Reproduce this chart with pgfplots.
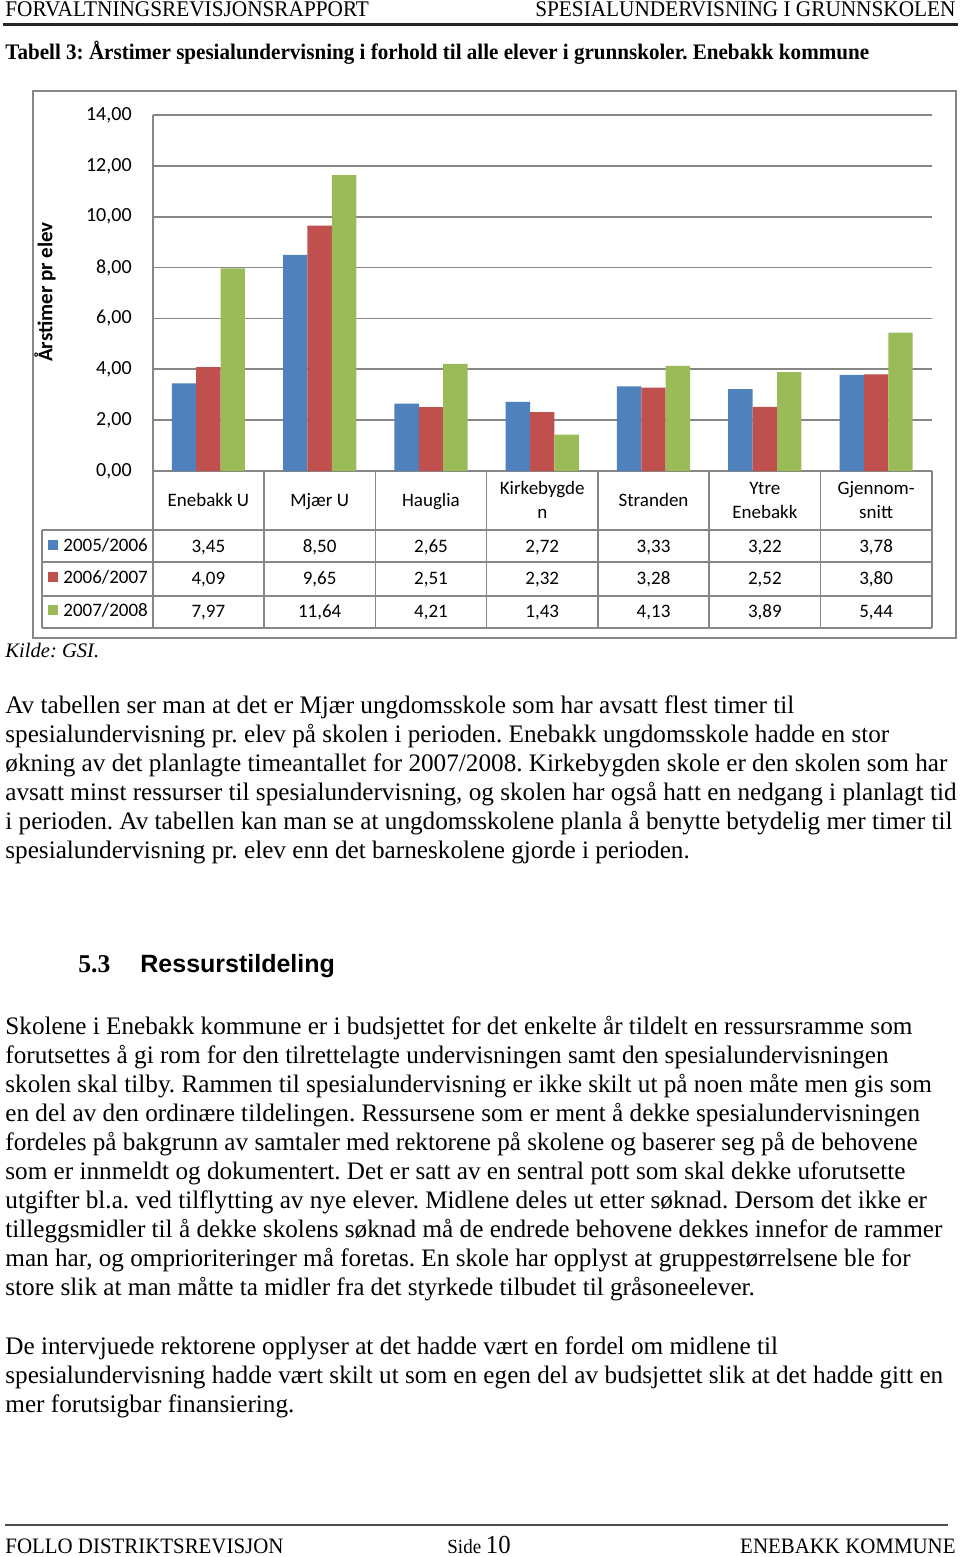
\documentclass[border=0pt]{standalone}
\usepackage{pgfplots}
\pgfplotsset{compat=1.18}
\usepackage{fontspec}
\setmainfont{Liberation Serif}
\newfontfamily\chartfont{Carlito}
\newfontfamily\hdrfont[FakeStretch=0.95]{Liberation Serif}
\newfontfamily\headsans{Liberation Sans}
\definecolor{xblue}{HTML}{4F81BD}
\definecolor{xred}{HTML}{C0504D}
\definecolor{xgreen}{HTML}{9BBB59}
\definecolor{gridgray}{HTML}{868686}
\newcommand\bodyfont{\fontsize{12.6}{15}\selectfont}
\newcommand\cf{\chartfont\fontsize{9.5}{12}\selectfont}
\frenchspacing
\begin{document}
\begin{tikzpicture}
\begin{scope}[x=0.5pt,y=-0.5pt]
\path[use as bounding box] (0,0) rectangle (960,1557);
% header
\node[anchor=base west,inner sep=0] at (5,17) {\hdrfont\fontsize{11.2}{13}\selectfont FORVALTNINGSREVISJONSRAPPORT};
\node[anchor=base east,inner sep=0] at (956,17) {\hdrfont\fontsize{11.2}{13}\selectfont SPESIALUNDERVISNING I GRUNNSKOLEN};
\draw[line width=1.1pt,black!85] (3,24.5) -- (958,24.5);
\node[anchor=base west,inner sep=0] at (5,60) {\hdrfont\bfseries\fontsize{11.1}{13}\selectfont Tabell 3: Årstimer spesialundervisning i forhold til alle elever i grunnskoler. Enebakk kommune};
% chart frame
\draw[gridgray,line width=0.8pt] (33,91) rectangle (956,638);
% y label
\node[rotate=90,inner sep=0] at (45,292) {\chartfont\bfseries\fontsize{10.5}{12}\selectfont Årstimer pr elev};
\end{scope}

\begin{axis}[
  at={(76.35pt,-235.5pt)}, anchor=south west,
  width=389.55pt, height=178pt, scale only axis,
  ymin=0, ymax=14, xmin=-0.5, xmax=6.5,
  ytick={0,2,4,6,8,10,12,14},
  xtick=\empty,
  axis x line*=bottom, axis y line*=left,
  axis line style={draw=gridgray, line width=0.8pt, -},
  ymajorgrids, grid style={draw=gridgray, line width=0.8pt},
  major tick length=0pt,
  ybar=0pt, bar width=12.2pt,
  yticklabel style={font=\chartfont\fontsize{10}{12}\selectfont, xshift=-7pt,
    /pgf/number format/fixed, /pgf/number format/fixed zerofill,
    /pgf/number format/precision=2, /pgf/number format/use comma,
    /pgf/number format/assume math mode=true},
]
\addplot[fill=xblue, draw=none] coordinates {(0,3.45) (1,8.50) (2,2.65) (3,2.72) (4,3.33) (5,3.22) (6,3.78)};
\addplot[fill=xred, draw=none] coordinates {(0,4.09) (1,9.65) (2,2.51) (3,2.32) (4,3.28) (5,2.52) (6,3.80)};
\addplot[fill=xgreen, draw=none] coordinates {(0,7.97) (1,11.64) (2,4.21) (3,1.43) (4,4.13) (5,3.89) (6,5.44)};
\end{axis}

\begin{scope}[x=0.5pt,y=-0.5pt]
% data table
\draw[gridgray,line width=0.8pt] (41.7,530) -- (931.8,530) (41.7,562) -- (931.8,562) (41.7,596) -- (931.8,596) (41.7,628) -- (931.8,628);
\draw[gridgray,line width=0.8pt] (41.7,530) -- (41.7,628);
\foreach \k in {0,...,7} { \draw[gridgray,line width=0.8pt] ({152.7+111.3*\k},471) -- ({152.7+111.3*\k},628); }
% category labels
\node[anchor=base,inner sep=0] at (208.35,506) {\cf Enebakk U};
\node[anchor=base,inner sep=0] at (319.65,506) {\cf Mjær U};
\node[anchor=base,inner sep=0] at (430.95,506) {\cf Hauglia};
\node[anchor=base,inner sep=0] at (542.25,494) {\cf Kirkebygde};
\node[anchor=base,inner sep=0] at (542.25,518) {\cf n};
\node[anchor=base,inner sep=0] at (653.55,506) {\cf Stranden};
\node[anchor=base,inner sep=0] at (764.85,494) {\cf Ytre};
\node[anchor=base,inner sep=0] at (764.85,518) {\cf Enebakk};
\node[anchor=base,inner sep=0] at (876.15,494) {\cf Gjennom-};
\node[anchor=base,inner sep=0] at (876.15,518) {\cf snitt};
% legend column
\fill[xblue] (48,540) rectangle (58,550);
\fill[xred] (48,572) rectangle (58,582);
\fill[xgreen] (48,605) rectangle (58,615);
\node[anchor=base west,inner sep=0] at (63,551) {\cf 2005/2006};
\node[anchor=base west,inner sep=0] at (63,583) {\cf 2006/2007};
\node[anchor=base west,inner sep=0] at (63,616) {\cf 2007/2008};
% values
\foreach \v [count=\i from 0] in {3{,}45,8{,}50,2{,}65,2{,}72,3{,}33,3{,}22,3{,}78}
  { \node[anchor=base,inner sep=0] at ({208.35+111.3*\i},552) {\cf \v}; }
\foreach \v [count=\i from 0] in {4{,}09,9{,}65,2{,}51,2{,}32,3{,}28,2{,}52,3{,}80}
  { \node[anchor=base,inner sep=0] at ({208.35+111.3*\i},584) {\cf \v}; }
\foreach \v [count=\i from 0] in {7{,}97,11{,}64,4{,}21,1{,}43,4{,}13,3{,}89,5{,}44}
  { \node[anchor=base,inner sep=0] at ({208.35+111.3*\i},617) {\cf \v}; }
% source
\node[anchor=base west,inner sep=0] at (5,657) {\fontsize{10.3}{13}\selectfont\itshape Kilde: GSI.};
% paragraph 1
\node[anchor=base west,inner sep=0] at (5,713) {\bodyfont Av tabellen ser man at det er Mjær ungdomsskole som har avsatt flest timer til};
\node[anchor=base west,inner sep=0] at (5,742) {\bodyfont spesialundervisning pr. elev på skolen i perioden. Enebakk ungdomsskole hadde en stor};
\node[anchor=base west,inner sep=0] at (5,771) {\bodyfont økning av det planlagte timeantallet for 2007/2008. Kirkebygden skole er den skolen som har};
\node[anchor=base west,inner sep=0] at (5,800) {\bodyfont avsatt minst ressurser til spesialundervisning, og skolen har også hatt en nedgang i planlagt tid};
\node[anchor=base west,inner sep=0] at (5,829) {\bodyfont i perioden. Av tabellen kan man se at ungdomsskolene planla å benytte betydelig mer timer til};
\node[anchor=base west,inner sep=0] at (5,858) {\bodyfont spesialundervisning pr. elev enn det barneskolene gjorde i perioden.};
% heading
\node[anchor=base west,inner sep=0] at (78,972) {\bfseries\fontsize{12.8}{15}\selectfont 5.3};
\node[anchor=base west,inner sep=0] at (140,972) {\headsans\bfseries\fontsize{12.5}{15}\selectfont Ressurstildeling};
% paragraph 2
\node[anchor=base west,inner sep=0] at (5,1034) {\bodyfont Skolene i Enebakk kommune er i budsjettet for det enkelte år tildelt en ressursramme som};
\node[anchor=base west,inner sep=0] at (5,1063) {\bodyfont forutsettes å gi rom for den tilrettelagte undervisningen samt den spesialundervisningen};
\node[anchor=base west,inner sep=0] at (5,1092) {\bodyfont skolen skal tilby. Rammen til spesialundervisning er ikke skilt ut på noen måte men gis som};
\node[anchor=base west,inner sep=0] at (5,1121) {\bodyfont en del av den ordinære tildelingen. Ressursene som er ment å dekke spesialundervisningen};
\node[anchor=base west,inner sep=0] at (5,1150) {\bodyfont fordeles på bakgrunn av samtaler med rektorene på skolene og baserer seg på de behovene};
\node[anchor=base west,inner sep=0] at (5,1179) {\bodyfont som er innmeldt og dokumentert. Det er satt av en sentral pott som skal dekke uforutsette};
\node[anchor=base west,inner sep=0] at (5,1208) {\bodyfont utgifter bl.a. ved tilflytting av nye elever. Midlene deles ut etter søknad. Dersom det ikke er};
\node[anchor=base west,inner sep=0] at (5,1237) {\bodyfont tilleggsmidler til å dekke skolens søknad må de endrede behovene dekkes innefor de rammer};
\node[anchor=base west,inner sep=0] at (5,1266) {\bodyfont man har, og omprioriteringer må foretas. En skole har opplyst at gruppestørrelsene ble for};
\node[anchor=base west,inner sep=0] at (5,1295) {\bodyfont store slik at man måtte ta midler fra det styrkede tilbudet til gråsoneelever.};
% paragraph 3
\node[anchor=base west,inner sep=0] at (5,1354) {\bodyfont De intervjuede rektorene opplyser at det hadde vært en fordel om midlene til};
\node[anchor=base west,inner sep=0] at (5,1383) {\bodyfont spesialundervisning hadde vært skilt ut som en egen del av budsjettet slik at det hadde gitt en};
\node[anchor=base west,inner sep=0] at (5,1412) {\bodyfont mer forutsigbar finansiering.};
% footer
\draw[line width=0.6pt,black!70] (5,1525) -- (948,1525);
\node[anchor=base west,inner sep=0] at (5,1553) {\hdrfont\fontsize{11}{13}\selectfont FOLLO DISTRIKTSREVISJON};
\node[anchor=base west,inner sep=0] at (447,1553) {\hdrfont\fontsize{10}{13}\selectfont Side \fontsize{13}{15}\selectfont 10};
\node[anchor=base east,inner sep=0] at (956,1553) {\hdrfont\fontsize{11}{13}\selectfont ENEBAKK KOMMUNE};
\end{scope}
\end{tikzpicture}
\end{document}
